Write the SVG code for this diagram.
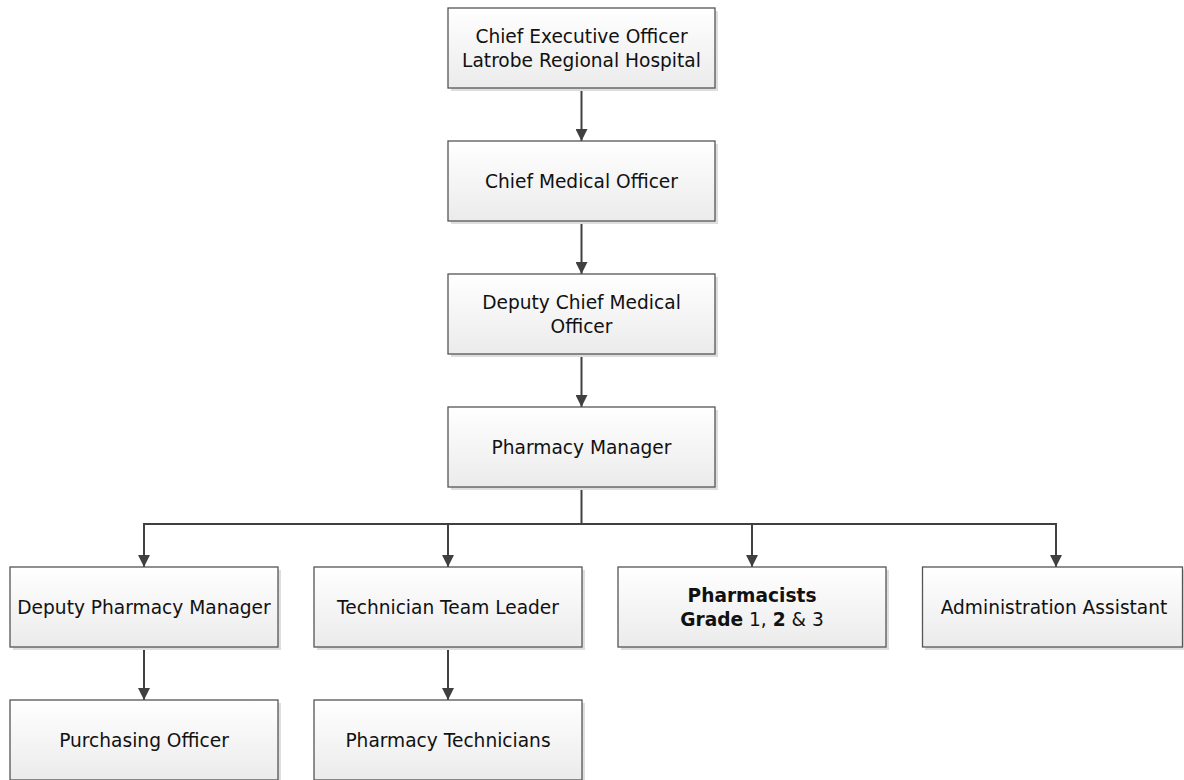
<svg xmlns="http://www.w3.org/2000/svg" width="1184" height="780" viewBox="0 0 1184 780">
<defs>
<linearGradient id="g" x1="0" y1="0" x2="0" y2="1">
<stop offset="0" stop-color="#ffffff"/>
<stop offset="1" stop-color="#ebebeb"/>
</linearGradient>
<marker id="ah" viewBox="0 0 10 10" refX="10" refY="5" markerWidth="6" markerHeight="6" orient="auto" markerUnits="strokeWidth">
<path d="M0,0 L10,5 L0,10 Z" fill="#404040"/>
</marker>
</defs>
<style>
.box{fill:url(#g);stroke:#555555;stroke-width:1.3}
.sh{fill:#dedede}
.t{font-family:"DejaVu Sans",Verdana,sans-serif;font-size:18.6px;fill:#111;text-anchor:middle}
.b{font-weight:bold}
.c{fill:none;stroke:#404040;stroke-width:2}
</style>
<rect width="1184" height="780" fill="#ffffff"/>
<g id="connectors">
<path class="c" d="M581.5,88 V141" marker-end="url(#ah)"/>
<path class="c" d="M581.5,221 V274" marker-end="url(#ah)"/>
<path class="c" d="M581.5,354 V407" marker-end="url(#ah)"/>
<path class="c" d="M581.5,487 V524 M144,524 H1056"/>
<path class="c" d="M144,523 V567" marker-end="url(#ah)"/>
<path class="c" d="M448,523 V567" marker-end="url(#ah)"/>
<path class="c" d="M752,523 V567" marker-end="url(#ah)"/>
<path class="c" d="M1056,523 V567" marker-end="url(#ah)"/>
<path class="c" d="M144,647 V700" marker-end="url(#ah)"/>
<path class="c" d="M448,647 V700" marker-end="url(#ah)"/>
</g>
<g id="ceo">
<rect class="sh" x="451" y="11" width="267" height="80"/>
<rect class="box" x="448" y="8" width="267" height="80"/>
<text class="t" x="581.5" y="43">Chief Executive Officer</text>
<text class="t" x="581.5" y="66.5">Latrobe Regional Hospital</text>
</g>
<g id="cmo">
<rect class="sh" x="451" y="144" width="267" height="80"/>
<rect class="box" x="448" y="141" width="267" height="80"/>
<text class="t" x="581.5" y="187.5">Chief Medical Officer</text>
</g>
<g id="dcmo">
<rect class="sh" x="451" y="277" width="267" height="80"/>
<rect class="box" x="448" y="274" width="267" height="80"/>
<text class="t" x="581.5" y="309">Deputy Chief Medical</text>
<text class="t" x="581.5" y="332.5">Officer</text>
</g>
<g id="pm">
<rect class="sh" x="451" y="410" width="267" height="80"/>
<rect class="box" x="448" y="407" width="267" height="80"/>
<text class="t" x="581.5" y="453.5">Pharmacy Manager</text>
</g>
<g id="dpm">
<rect class="sh" x="13" y="570" width="268" height="80"/>
<rect class="box" x="10" y="567" width="268" height="80"/>
<text class="t" x="144" y="613.5">Deputy Pharmacy Manager</text>
</g>
<g id="ttl">
<rect class="sh" x="317" y="570" width="268" height="80"/>
<rect class="box" x="314" y="567" width="268" height="80"/>
<text class="t" x="448" y="613.5">Technician Team Leader</text>
</g>
<g id="pharmacists">
<rect class="sh" x="621" y="570" width="268" height="80"/>
<rect class="box" x="618" y="567" width="268" height="80"/>
<text class="t b" x="752" y="602">Pharmacists</text>
<text class="t" x="752" y="625.5"><tspan class="b">Grade</tspan> 1, <tspan class="b">2</tspan> &amp; 3</text>
</g>
<g id="admin">
<rect class="sh" x="925" y="570" width="262" height="80"/>
<rect class="box" x="922.5" y="567" width="260" height="80"/>
<text class="t" x="1054" y="613.5">Administration Assistant</text>
</g>
<g id="po">
<rect class="sh" x="13" y="703" width="268" height="80"/>
<rect class="box" x="10" y="700" width="268" height="80"/>
<text class="t" x="144" y="746.5">Purchasing Officer</text>
</g>
<g id="pt">
<rect class="sh" x="317" y="703" width="268" height="80"/>
<rect class="box" x="314" y="700" width="268" height="80"/>
<text class="t" x="448" y="746.5">Pharmacy Technicians</text>
</g>
</svg>
